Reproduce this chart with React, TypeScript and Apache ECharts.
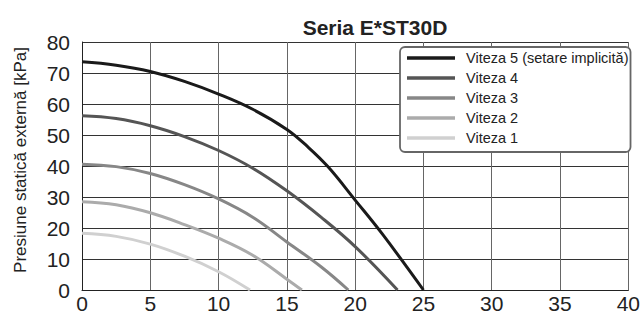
import React, { useEffect, useRef } from "react";
import * as echarts from "echarts";

const title = "Seria E*ST30D";
const yAxisName = "Presiune statică externă [kPa]";
const seriesNames = ["Viteza 5 (setare implicită)", "Viteza 4", "Viteza 3", "Viteza 2", "Viteza 1"];
const seriesColors = ["#1a1a1a", "#555555", "#878787", "#ababab", "#d0d0d0"];

const v5: [number, number][] = [[0, 73.6], [2.5, 72.5], [5, 70.5], [7.5, 67.3], [10, 63.2], [12.5, 58.3], [15, 51.8], [16.5, 46.3], [18, 39.8], [20, 29], [22, 18], [25, 0]];
const v4: [number, number][] = [[0, 56.2], [2.5, 55.3], [5, 53], [7.5, 49.5], [10, 45], [12.5, 39.3], [15, 32], [17.5, 23.5], [20, 14], [23.1, 0]];
const v3: [number, number][] = [[0, 40.6], [2.5, 39.8], [5, 37.6], [7.5, 34], [10, 29.4], [12.5, 23.5], [15, 15.5], [17.5, 7.5], [19.5, 0]];
const v2: [number, number][] = [[0, 28.5], [2.5, 27.5], [5, 24.9], [7.5, 21.1], [10, 16.7], [12.5, 11.2], [15, 3.5], [16.1, 0]];
const v1: [number, number][] = [[0, 18.3], [2.5, 17.3], [5, 14.8], [7.5, 10.9], [10, 5.9], [12.3, 0]];
const seriesData = [v5, v4, v3, v2, v1];

const FONT = "'Liberation Sans', Arial, sans-serif";

export default function App() {
  const ref = useRef<HTMLDivElement>(null);
  useEffect(() => {
    if (!ref.current) return;
    const chart = echarts.init(ref.current, null, { renderer: "svg" });
    chart.setOption({
      animation: false,
      backgroundColor: "#ffffff",
      textStyle: { fontFamily: FONT },
      title: {
        text: title,
        left: 370,
        textAlign: "center",
        top: 12,
        textStyle: { fontSize: 21, fontWeight: "bold", color: "#222", fontFamily: FONT },
      },
      graphic: [
        {
          type: "text",
          x: 20,
          y: 160,
          rotation: Math.PI / 2,
          style: {
            text: yAxisName,
            fontSize: 17,
            fill: "#222",
            fontFamily: FONT,
            align: "center",
            verticalAlign: "middle",
          },
        },
      ],
      grid: { left: 82, right: 10, top: 42, bottom: 30, containLabel: false, show: false },
      legend: {
        orient: "vertical",
        left: 400,
        top: 47,
        data: seriesNames,
        icon: "rect",
        itemWidth: 48,
        itemHeight: 3.5,
        itemGap: 0,
        padding: [1, 2, 4, 7],
        backgroundColor: "#ffffff",
        borderColor: "#666",
        borderWidth: 1.8,
        borderRadius: 5,
        textStyle: { fontSize: 14.5, lineHeight: 20, color: "#222", fontFamily: FONT, padding: [0, 0, 0, 6] },
      },
      xAxis: {
        type: "value",
        min: 0,
        max: 40,
        interval: 5,
        axisLine: { show: true, onZero: false, lineStyle: { color: "#222", width: 1 } },
        axisTick: { show: false },
        splitLine: { show: true, lineStyle: { color: "#666", width: 1 } },
        axisLabel: { fontSize: 21, color: "#222", margin: 3, fontFamily: FONT },
      },
      yAxis: {
        type: "value",
        min: 0,
        max: 80,
        interval: 10,
        axisLine: { show: true, lineStyle: { color: "#222", width: 1 } },
        axisTick: { show: false },
        splitLine: { show: true, lineStyle: { color: "#333", width: 1 } },
        axisLabel: { fontSize: 21, color: "#222", margin: 12, fontFamily: FONT },
      },
      series: seriesNames.map((name, i) => ({
        name,
        type: "line",
        data: seriesData[i],
        smooth: 0.4,
        showSymbol: false,
        symbol: "none",
        z: 10 - i,
        lineStyle: { color: seriesColors[i], width: 3 },
        itemStyle: { color: seriesColors[i] },
      })),
    });
    return () => chart.dispose();
  }, []);
  return <div ref={ref} style={{ width: 643, height: 320, position: "absolute", left: 0, top: 0 }} />;
}
